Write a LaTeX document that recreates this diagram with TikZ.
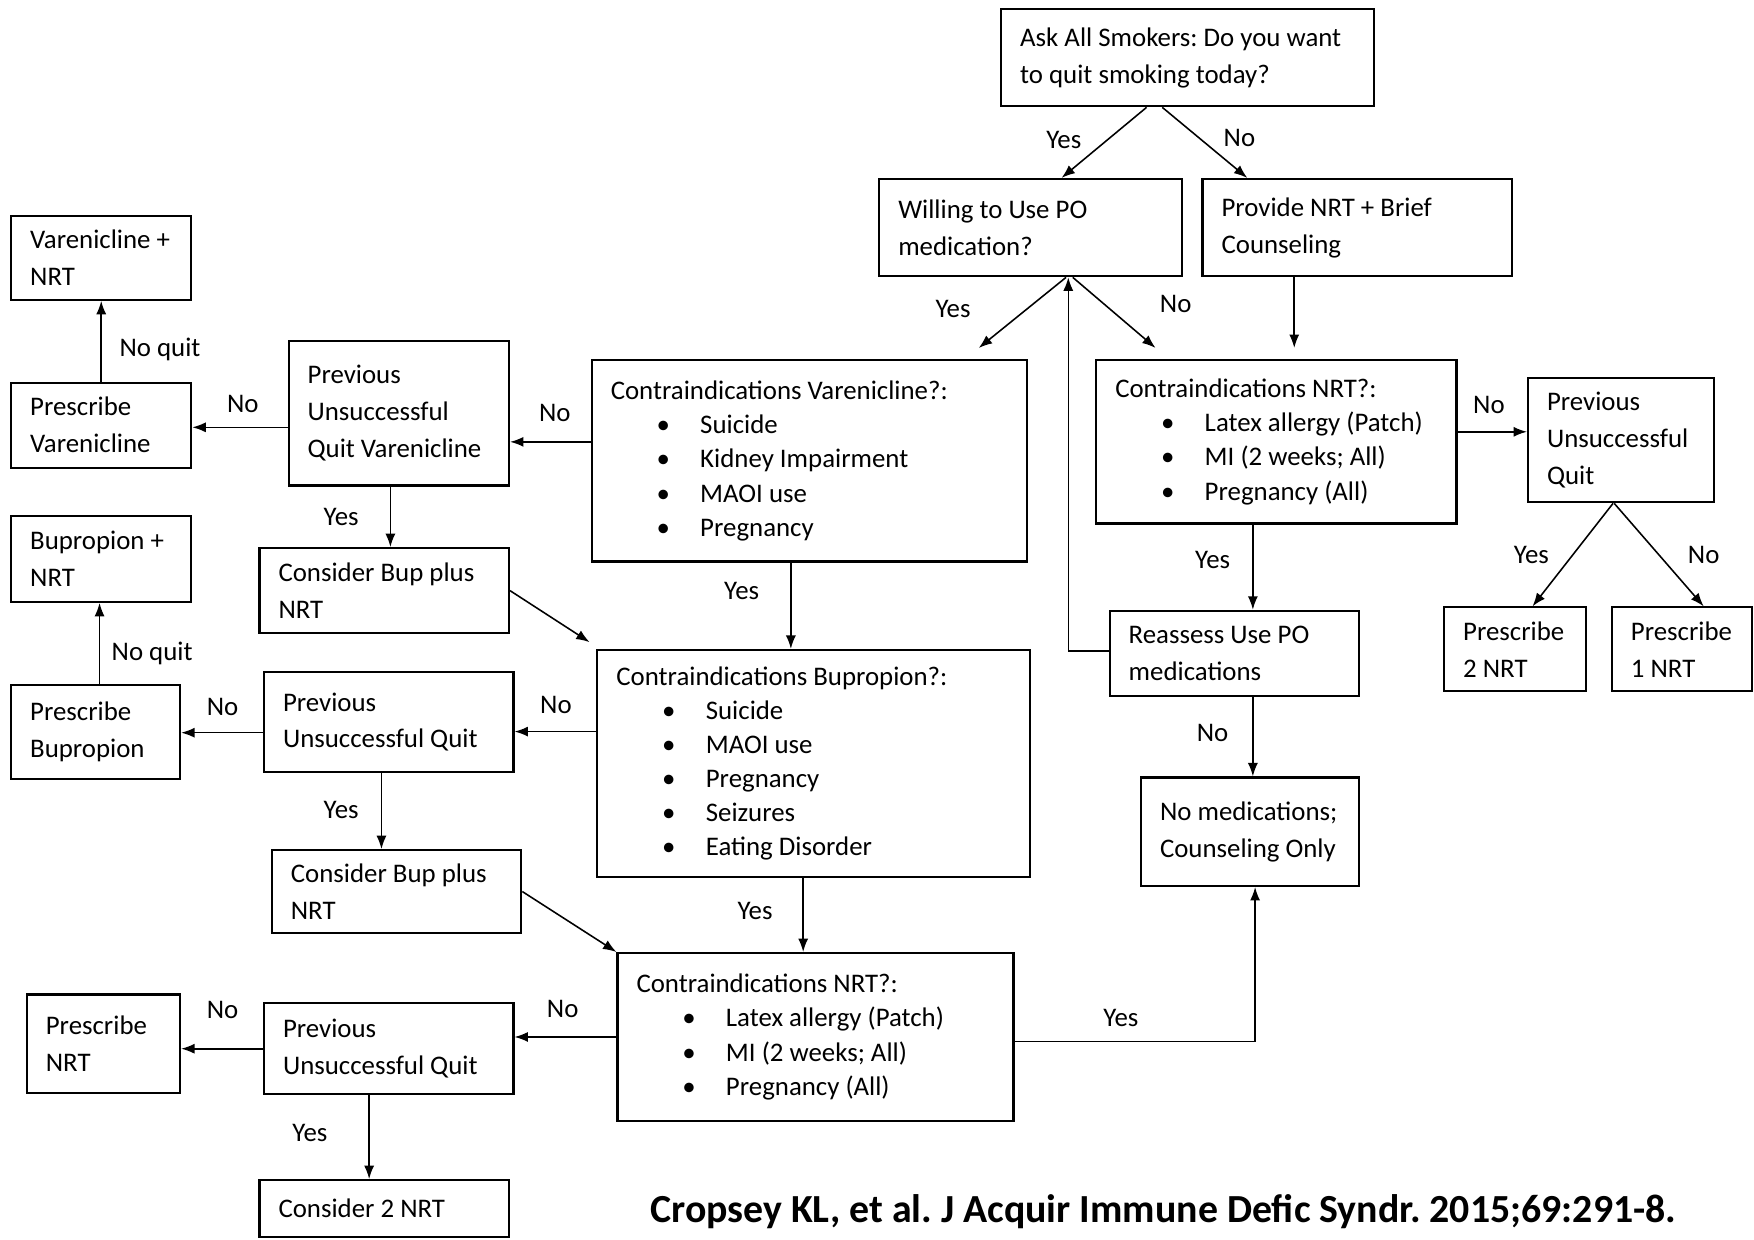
\documentclass[tikz,border=0pt]{standalone}
\usepackage{fontspec}
\setmainfont{Carlito}
\usetikzlibrary{arrows.meta,calc}
\newcommand{\bul}[1]{\hspace*{20.5pt}\makebox[19.5pt][l]{\textbullet}#1}

\begin{document}
\frenchspacing
\hyphenpenalty=10000
\exhyphenpenalty=10000
\begin{tikzpicture}[x=0.5pt,y=0.5pt,yscale=-1,xscale=1,
  box/.style={draw,line width=0.95pt,rectangle,align=left,inner xsep=8.5pt,inner ysep=2pt,font=\fontsize{12}{16.5}\selectfont,
    execute at begin node={\spaceskip=0.226em\relax\xspaceskip=0.226em\relax}},
  listbox/.style={box,font=\fontsize{12}{15.25}\selectfont},
  arr/.style={line width=0.7pt,-{Latex[length=6pt,width=4.5pt]}},
  lbl/.style={inner sep=0.75pt,font=\fontsize{12}{16.5}\selectfont}]
\useasboundingbox (0,0) rectangle (1568,1108);

%Shape: Rectangle
\node[box,text width=149.5pt,minimum height=43.5pt] (ask) at (1061.5,51.5) {Ask All Smokers: Do you want\\to quit smoking today?};
\node[box,text width=118.5pt,minimum height=43.5pt] (willing) at (921.5,203.5) {Willing to Use PO\\medication?};
\node[box,text width=121.5pt,minimum height=43.5pt] (provide) at (1213.5,203.5) {Provide NRT + Brief\\Counseling};
\node[box,text width=63.5pt,minimum height=37.5pt] (varnrt) at (90.5,230.5) {Varenicline~+\\NRT};
\node[box,text width=63.5pt,minimum height=38pt] (prescvar) at (90.5,380) {Prescribe\\Varenicline};
\node[box,text width=81.5pt,minimum height=64.5pt] (prevvar) at (356.5,369.5) {Previous\\Unsuccessful\\Quit Varenicline};
\node[listbox,text width=177.5pt,minimum height=90pt] (civar) at (723.5,412) {Contraindications Varenicline?:\\\bul{Suicide}\\\bul{Kidney Impairment}\\\bul{MAOI use}\\\bul{Pregnancy}};
\node[listbox,text width=144pt,minimum height=73pt] (cinrta) at (1141,395) {Contraindications NRT?:\\\bul{Latex allergy (Patch)}\\\bul{MI (2 weeks; All)}\\\bul{Pregnancy (All)}};
\node[box,text width=66pt,minimum height=55.5pt] (prevq) at (1449,393.5) {Previous\\Unsuccessful\\Quit};
\node[box,text width=46.5pt,minimum height=37.5pt] (prtwo) at (1354.5,580.5) {Prescribe\\2 NRT};
\node[box,text width=45.5pt,minimum height=37.5pt] (prone) at (1503.5,580.5) {Prescribe\\1 NRT};
\node[box,text width=63.5pt,minimum height=38.5pt] (bupnrt) at (90.5,499.5) {Bupropion~+\\NRT};
\node[box,text width=94.5pt,minimum height=38pt] (bupa) at (343.5,528) {Consider Bup plus\\NRT};
\node[box,text width=94.5pt,minimum height=38pt] (reassess) at (1103.5,584) {Reassess Use PO\\medications};
\node[listbox,text width=176.5pt,minimum height=101.5pt] (cibup) at (727.5,682.5) {Contraindications Bupropion?:\\\bul{Suicide}\\\bul{MAOI use}\\\bul{Pregnancy}\\\bul{Seizures}\\\bul{Eating Disorder}};
\node[box,text width=58.5pt,minimum height=42pt] (prescbup) at (85.5,654) {Prescribe\\Bupropion};
\node[box,text width=94.5pt,minimum height=44.5pt] (prevbup) at (347.5,645.5) {Previous\\Unsuccessful~Quit};
\node[box,text width=80.5pt,minimum height=48.5pt] (nomed) at (1117.5,743.5) {No~medications;\\Counseling~Only};
\node[box,text width=94.5pt,minimum height=37pt] (bupb) at (354.5,797) {Consider Bup plus\\NRT};
\node[listbox,text width=160pt,minimum height=75pt] (cinrtb) at (729,927) {Contraindications NRT?:\\\bul{Latex allergy (Patch)}\\\bul{MI (2 weeks; All)}\\\bul{Pregnancy (All)}};
\node[box,text width=51.5pt,minimum height=44pt] (prescnrt) at (92.5,933) {Prescribe\\NRT};
\node[box,text width=94.5pt,minimum height=40.5pt] (prevnrt) at (347.5,937.5) {Previous\\Unsuccessful~Quit};
\node[box,text width=94.5pt,minimum height=25.5pt] (constwo) at (343.5,1080.5) {Consider 2 NRT};

%Straight Lines
\draw[arr] ($(ask.south)+(-36.5,0)$) -- ($(willing.north)+(27.5,0)$);
\draw[arr] ($(ask.south)+(-22.5,0)$) -- ($(provide.north)+(-98.5,0)$);
\draw[arr] ($(willing.south)+(31.5,0)$) -- ($(civar.north)+(151.5,-10)$);
\draw[arr] ($(willing.south)+(37.5,0)$) -- ($(cinrta.north)+(-108,-10)$);
\draw[arr] ($(provide.south)+(-56.5,0)$) -- ($(cinrta.north)+(16,-10)$);
\draw[arr] ($(reassess.west)+(0,-2)$) -| ($(willing.south)+(33.5,0)$);
\draw[arr] ($(civar.west)+(0,-17)$) -- ($(prevvar.east)+(0,25.5)$);
\draw[arr] ($(prevvar.west)+(0,12.5)$) -- ($(prescvar.east)+(0,2)$);
\draw[arr] (prescvar.north) -- (varnrt.south);
\draw[arr] ($(prevvar.south)+(-7.5,0)$) -- ($(bupa.north)+(5.5,0)$);
\draw[arr] (bupa.east) -- ($(cibup.north west)+(-6,-6)$);
\draw[arr] ($(civar.south)+(-16.5,0)$) -- ($(cibup.north)+(-20.5,0)$);
\draw[arr] ($(cibup.west)+(0,-28.5)$) -- ($(prevbup.east)+(0,8.5)$);
\draw[arr] ($(prevbup.west)+(0,9.5)$) -- ($(prescbup.east)+(0,1)$);
\draw[arr] ($(prescbup.north)+(3.5,0)$) -- ($(bupnrt.south)+(-1.5,0)$);
\draw[arr] ($(prevbup.south)+(-6.5,0)$) -- ($(bupb.north)+(-13.5,0)$);
\draw[arr] (bupb.east) -- (cinrtb.north west);
\draw[arr] ($(cibup.south)+(-9.5,0)$) -- ($(cinrtb.north)+(-11,0)$);
\draw[arr] (cinrtb.west) -- ($(prevnrt.east)+(0,-10.5)$);
\draw[arr] (prevnrt.west) -- ($(prescnrt.east)+(0,4.5)$);
\draw[arr] ($(prevnrt.south)+(-17.5,0)$) -- ($(constwo.north)+(-13.5,0)$);
\draw[arr] ($(cinrtb.east)+(0,4)$) -| ($(nomed.south)+(4.5,0)$);
\draw[arr] ($(cinrta.south)+(-21,0)$) -- ($(reassess.north)+(16.5,0)$);
\draw[arr] ($(reassess.south)+(16.5,0)$) -- ($(nomed.north)+(2.5,0)$);
\draw[arr] ($(cinrta.east)+(0,-9)$) -- ($(prevq.west)+(0,-7.5)$);
\draw[arr] ($(prevq.south)+(-7,0)$) -- ($(prtwo.north)+(15.5,0)$);
\draw[arr] ($(prevq.south)+(-6,0)$) -- ($(prone.north)+(19.5,0)$);

% Text Node
\node[lbl] (ya) at (951,125) {Yes};
\node[lbl] (na) at (1108,123) {No};
\node[lbl] (yb) at (852,276) {Yes};
\node[lbl] (nb) at (1051,272) {No};
\node[lbl] (nc) at (496,369) {No};
\node[lbl] (nd) at (217,361) {No};
\node[lbl] (nqa) at (143,312) {No quit};
\node[lbl] (yc) at (305,462) {Yes};
\node[lbl] (yd) at (663,528) {Yes};
\node[lbl] (ne) at (497,630) {No};
\node[lbl] (nf) at (199,632) {No};
\node[lbl] (nqb) at (136,584) {No quit};
\node[lbl] (ye) at (305,724) {Yes};
\node[lbl] (yf) at (675,814) {Yes};
\node[lbl] (ng) at (503,902) {No};
\node[lbl] (nh) at (199,903) {No};
\node[lbl] (yg) at (277,1013) {Yes};
\node[lbl] (yh) at (1002,910) {Yes};
\node[lbl] (yi) at (1084,501) {Yes};
\node[lbl] (ni) at (1084,655) {No};
\node[lbl] (nj) at (1331,362) {No};
\node[lbl] (yj) at (1369,496) {Yes};
\node[lbl] (nk) at (1523,496) {No};

% Text Node
\node[inner sep=0pt,font=\fontsize{17.8}{21}\selectfont\bfseries] (cite) at (1040,1083) {Cropsey KL, et al. J Acquir Immune Defic Syndr. 2015;69:291-8.};

\end{tikzpicture}
\end{document}
